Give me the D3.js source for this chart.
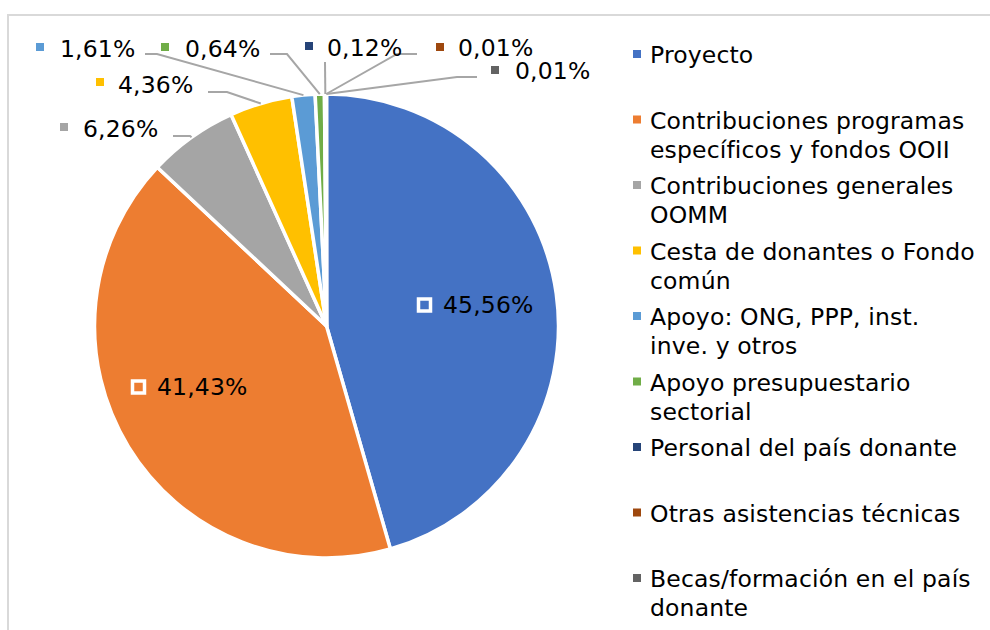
<!DOCTYPE html>
<html>
<head>
<meta charset="utf-8">
<script src="https://cdn.jsdelivr.net/npm/d3@7"></script>
<style>
  body { margin: 0; background: #fff; }
  svg text { font-family: "DejaVu Sans", Verdana, sans-serif; fill: #000; letter-spacing: 0.15px; }
</style>
</head>
<body>
<div class="chart-container"></div>
<script>
const categories = [
    "Proyecto",
    "Contribuciones programas\nespecíficos y fondos OOII",
    "Contribuciones generales\nOOMM",
    "Cesta de donantes o Fondo\ncomún",
    "Apoyo: ONG, PPP, inst.\ninve. y otros",
    "Apoyo presupuestario\nsectorial",
    "Personal del país donante",
    "Otras asistencias técnicas",
    "Becas/formación en el país\ndonante"
];
const values = [45.56, 41.43, 6.26, 4.36, 1.61, 0.64, 0.12, 0.01, 0.01];
const colors = ["#4472C4", "#ED7D31", "#A5A5A5", "#FFC000", "#5B9BD5", "#70AD47", "#264478", "#9E480E", "#636363"];

// label placement (marker centre, text start, baseline, leader elbow points)
const labelLayout = [
    { mx: 424.5, my: 305, tx: 443, ty: 313, inside: true },
    { mx: 138.5, my: 387, tx: 157, ty: 395, inside: true },
    { mx: 64, my: 127, tx: 83, ty: 137, leader: [[173, 136], [190, 136]] },
    { mx: 100, my: 82, tx: 118, ty: 93, leader: [[208, 92], [227, 92]] },
    { mx: 40, my: 47, tx: 60, ty: 57, leader: [[145, 54], [157, 54]] },
    { mx: 165, my: 47, tx: 185, ty: 57, leader: [[270, 54], [287, 54]] },
    { mx: 309, my: 46, tx: 327, ty: 56, leader: [[325, 62]] },
    { mx: 440, my: 47, tx: 458, ty: 56, leader: [[417, 54], [397, 54]] },
    { mx: 495, my: 70, tx: 515, ty: 79, leader: [[477, 77], [457, 77]] }
];

const w = 990;
const h = 630;
const cx = 326.5;
const cy = 326;
const radius = 232;
const fontSize = 23.5;

const fmt = (v) => d3.format(".2f")(v).replace(".", ",") + "%";

const svg = d3.select(".chart-container")
    .append("svg")
    .attr("width", w)
    .attr("height", h);

// chart area border (only top and left visible)
svg.append("path")
    .attr("d", `M8,${h} L8,15 L${w},15`)
    .attr("fill", "none")
    .attr("stroke", "#D9D9D9")
    .attr("stroke-width", 2);

const pie = d3.pie().sort(null).value((d) => d);
const arcs = pie(values);

const arc = d3.arc().innerRadius(0).outerRadius(radius);
const edgeArc = d3.arc().innerRadius(radius).outerRadius(radius);

const g = svg.append("g").attr("transform", `translate(${cx},${cy})`);

g.selectAll("path.slice")
    .data(arcs)
    .enter()
    .append("path")
    .attr("class", "slice")
    .attr("d", arc)
    .attr("fill", (d, i) => colors[i])
    .attr("stroke", "#fff")
    .attr("stroke-width", 3.5)
    .attr("stroke-linejoin", "round");

// leader lines
arcs.forEach((d, i) => {
    const lay = labelLayout[i];
    if (!lay.leader) return;
    const c = edgeArc.centroid(d);
    const pts = lay.leader.concat([[c[0] + cx, c[1] + cy]]);
    svg.append("path")
        .attr("d", d3.line()(pts))
        .attr("fill", "none")
        .attr("stroke", "#A6A6A6")
        .attr("stroke-width", 2);
});

// data labels
arcs.forEach((d, i) => {
    const lay = labelLayout[i];
    if (lay.inside) {
        svg.append("rect")
            .attr("x", lay.mx - 6)
            .attr("y", lay.my - 6)
            .attr("width", 12)
            .attr("height", 12)
            .attr("fill", colors[i])
            .attr("stroke", "#fff")
            .attr("stroke-width", 3.5);
    } else {
        svg.append("rect")
            .attr("x", lay.mx - 4)
            .attr("y", lay.my - 4)
            .attr("width", 8)
            .attr("height", 8)
            .attr("fill", colors[i]);
    }
    svg.append("text")
        .attr("x", lay.tx)
        .attr("y", lay.ty)
        .style("font-size", fontSize + "px")
        .text(fmt(values[i]));
});

// legend
const legendX = 650;
const legendY0 = 63;
const legendStep = 65.5;
const lineH = 29;

const legend = svg.append("g");
categories.forEach((name, i) => {
    const y = legendY0 + i * legendStep;
    legend.append("rect")
        .attr("x", 633)
        .attr("y", y - 13)
        .attr("width", 8)
        .attr("height", 8)
        .attr("fill", colors[i]);
    const t = legend.append("text")
        .attr("x", legendX)
        .attr("y", y)
        .style("font-size", fontSize + "px");
    name.split("\n").forEach((line, j) => {
        t.append("tspan")
            .attr("x", legendX)
            .attr("y", y + j * lineH)
            .text(line);
    });
});
</script>
</body>
</html>
